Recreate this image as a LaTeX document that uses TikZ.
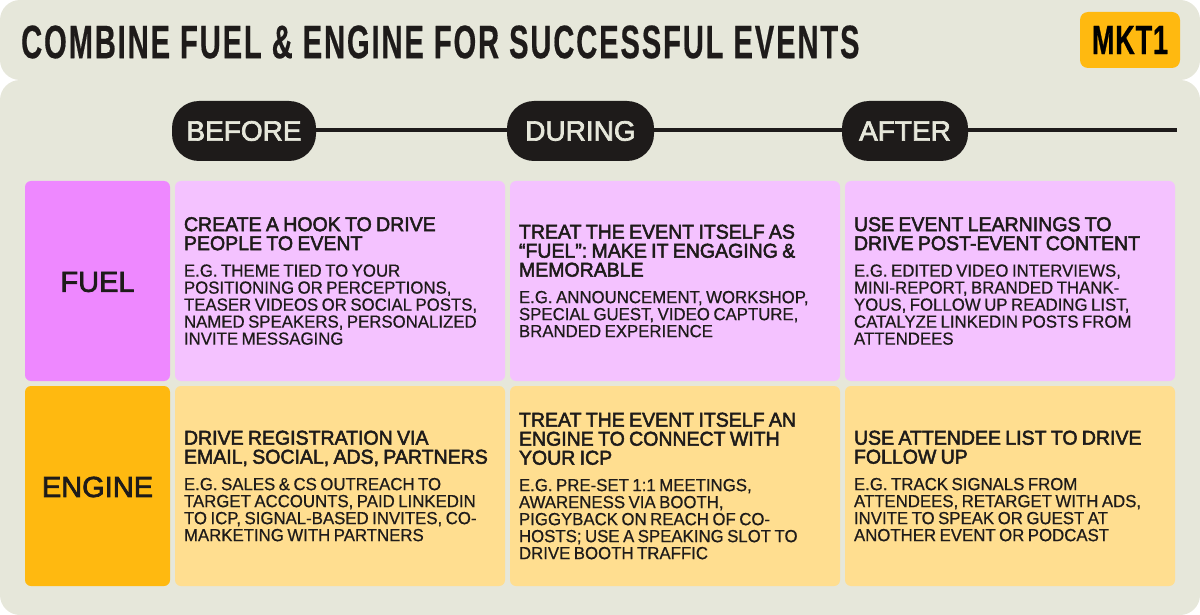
\documentclass[tikz,border=0pt]{standalone}
\usepackage{fontspec}
\setmainfont{Liberation Sans}
\newfontfamily\titlefont[FakeStretch=.62,LetterSpace=4,FakeBold=.4]{Liberation Sans Bold}
\newfontfamily\logofont[FakeStretch=.66,LetterSpace=2,FakeBold=.6]{Liberation Sans Bold}
\newfontfamily\headfont[FakeStretch=.975,FakeBold=2.5,WordSpace=.8]{Liberation Sans}
\newfontfamily\bodyfont[FakeStretch=.96,FakeBold=.6,WordSpace=.75]{Liberation Sans}
\newfontfamily\labelfont[FakeBold=2.5]{Liberation Sans}
\usetikzlibrary{positioning}
\definecolor{panelbg}{HTML}{E6E7DA}
\definecolor{inkdark}{HTML}{1E1B1A}
\definecolor{fuelstrong}{HTML}{EE88FF}
\definecolor{fuellight}{HTML}{F4C2FF}
\definecolor{enginestrong}{HTML}{FFB910}
\definecolor{enginelight}{HTML}{FFDE90}
\newcommand{\cellhead}[1]{{\hyphenpenalty=10000\relax\headfont\fontsize{20}{19}\selectfont #1\par}\vspace{9.5pt}}
\newcommand{\cellbody}[1]{{\hyphenpenalty=10000\relax\bodyfont\fontsize{17.5}{17}\selectfont #1\par}}
\tikzset{
	panel/.style={fill=panelbg,rounded corners=20pt},
	pill/.style={fill=inkdark,text=panelbg,rounded corners=27pt,minimum height=60pt,inner xsep=0pt,font=\labelfont\fontsize{28}{30}\selectfont},
	rowlabel/.style={text=inkdark,font=\labelfont\fontsize{29}{29}\selectfont},
	cell/.style={rounded corners=6pt,minimum width=330pt,minimum height=200pt,text width=312pt,inner xsep=9pt,inner ysep=0pt,align=flush left,text=inkdark},
	timeline/.style={inkdark,line width=4pt},
}
\begin{document}
\begin{tikzpicture}[x=1pt,y=-1pt]
	\useasboundingbox (0,0) rectangle (1200,615);
	\fill[panel] (0,0) rectangle (1200,80);
	\fill[panel] (0,80) rectangle (1200,615);

	\node[anchor=west,inner sep=0pt,text=inkdark,font=\titlefont\fontsize{47}{47}\selectfont] (title) at (21,42) {COMBINE FUEL \& ENGINE FOR SUCCESSFUL EVENTS};
	\node[fill=enginestrong,rounded corners=8pt,minimum width=100pt,minimum height=56pt,inner sep=0pt,text=black,font=\logofont\fontsize{41}{41}\selectfont] (logo) at (1130,40) {MKT1};

	\coordinate (lineend) at (1177,130.3);
	\node[pill,minimum width=144pt] (before) at (244,131) {BEFORE};
	\node[pill,minimum width=147pt] (during) at (580.5,131) {DURING};
	\node[pill,minimum width=126pt] (after) at (905,131) {AFTER};
	\draw[timeline] (before.east |- lineend) -- (during.west |- lineend);
	\draw[timeline] (during.east |- lineend) -- (after.west |- lineend);
	\draw[timeline] (after.east |- lineend) -- (lineend);

	\fill[rounded corners=6pt,fuelstrong] (25,181) rectangle (170,381);
	\fill[rounded corners=6pt,enginestrong] (25,386) rectangle (170,586);
	\node[rowlabel] (fuel) at (97.5,282) {FUEL};
	\node[rowlabel] (engine) at (97.5,487) {ENGINE};

	\node[cell,fill=fuellight] (fuelbefore) at (340,281) {\cellhead{CREATE A HOOK TO DRIVE\\PEOPLE TO EVENT}
		\cellbody{E.G. THEME TIED TO YOUR\\POSITIONING OR PERCEPTIONS,\\TEASER VIDEOS OR SOCIAL POSTS,\\NAMED SPEAKERS, PERSONALIZED\\INVITE MESSAGING}};
	\node[cell,fill=fuellight] (fuelduring) at (675,281) {\cellhead{TREAT THE EVENT ITSELF AS\\“FUEL”: MAKE IT ENGAGING \&\\MEMORABLE}
		\cellbody{E.G. ANNOUNCEMENT, WORKSHOP,\\SPECIAL GUEST, VIDEO CAPTURE,\\BRANDED EXPERIENCE}};
	\node[cell,fill=fuellight] (fuelafter) at (1010,281) {\cellhead{USE EVENT LEARNINGS TO\\DRIVE POST-EVENT CONTENT}
		\cellbody{E.G. EDITED VIDEO INTERVIEWS,\\MINI-REPORT, BRANDED THANK-\\YOUS, FOLLOW UP READING LIST,\\CATALYZE LINKEDIN POSTS FROM\\ATTENDEES}};

	\node[cell,fill=enginelight] (enginebefore) at (340,486) {\cellhead{DRIVE REGISTRATION VIA\\EMAIL, SOCIAL, ADS, PARTNERS}
		\cellbody{E.G. SALES \& CS OUTREACH TO\\TARGET ACCOUNTS, PAID LINKEDIN\\TO ICP, SIGNAL-BASED INVITES, CO-\\MARKETING WITH PARTNERS}};
	\node[cell,fill=enginelight] (engineduring) at (675,486) {\cellhead{TREAT THE EVENT ITSELF AN\\ENGINE TO CONNECT WITH\\YOUR ICP}
		\cellbody{E.G. PRE-SET 1:1 MEETINGS,\\AWARENESS VIA BOOTH,\\PIGGYBACK ON REACH OF CO-\\HOSTS; USE A SPEAKING SLOT TO\\DRIVE BOOTH TRAFFIC}};
	\node[cell,fill=enginelight] (engineafter) at (1010,486) {\cellhead{USE ATTENDEE LIST TO DRIVE\\FOLLOW UP}
		\cellbody{E.G. TRACK SIGNALS FROM\\ATTENDEES, RETARGET WITH ADS,\\INVITE TO SPEAK OR GUEST AT\\ANOTHER EVENT OR PODCAST}};
\end{tikzpicture}
\end{document}
